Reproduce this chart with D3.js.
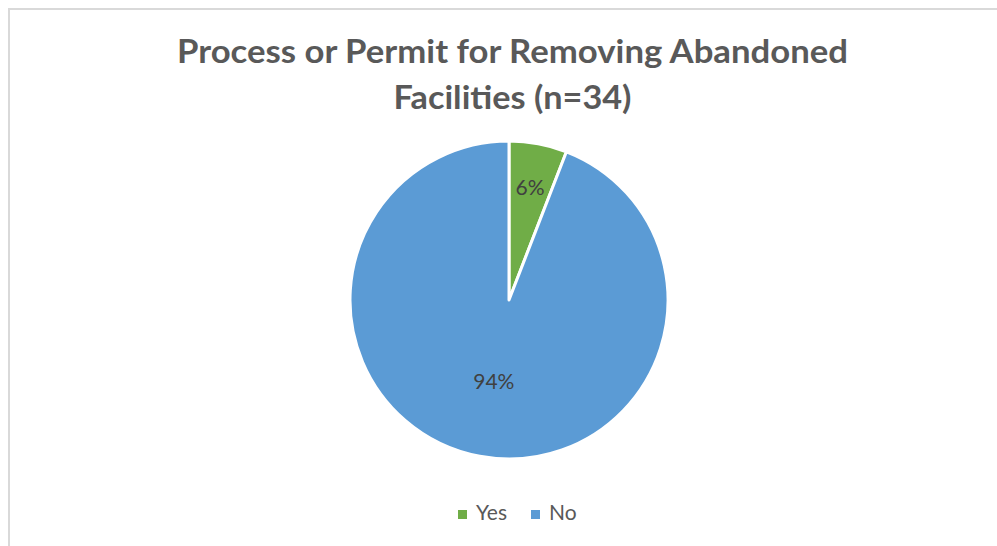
<!DOCTYPE html>
<html>
<head>
<meta charset="utf-8">
<script src="https://cdn.jsdelivr.net/npm/d3@7"></script>
<style>
  html, body { margin: 0; padding: 0; background: #fff; }
  svg { display: block; }
</style>
</head>
<body>
<svg id="chart" width="997" height="546"></svg>
<script>
// Survey responses (n = 34)
const categories = ["Yes", "No"];
const counts = [2, 32];
const colors = ["#70AD47", "#5B9BD5"];
const titleLines = ["Process or Permit for Removing Abandoned", "Facilities (n=34)"];

const W = 997, H = 546;
const svg = d3.select("#chart");

// chart area frame (top and left edges visible)
svg.append("path")
  .attr("d", "M9,546 V9 H997")
  .attr("fill", "none")
  .attr("stroke", "#d9d9d9")
  .attr("stroke-width", 2);

const textColor = "#595959";
const font = "Lato, 'Open Sans', 'Liberation Sans', sans-serif";

// title, widened to the plot's title width
const title = svg.append("text")
  .attr("text-anchor", "middle")
  .attr("font-family", font)
  .attr("font-weight", "bold")
  .attr("font-size", 33)
  .attr("fill", textColor);
const titleWidths = [671, 238];
titleLines.forEach((t, i) => {
  title.append("tspan")
    .attr("x", 512.5)
    .attr("y", 63 + i * 46)
    .attr("textLength", titleWidths[i])
    .attr("lengthAdjust", "spacingAndGlyphs")
    .text(t);
});

// pie
const cx = 509, cy = 300, R = 159;
const total = d3.sum(counts);
const data = categories.map((c, i) => ({ cat: c, value: counts[i], color: colors[i] }));
const pie = d3.pie().value(d => d.value).sort(null);
const arcs = pie(data);
const arc = d3.arc().innerRadius(0).outerRadius(R);

const g = svg.append("g").attr("transform", `translate(${cx},${cy})`);
g.selectAll("path.slice")
  .data(arcs)
  .join("path")
  .attr("class", "slice")
  .attr("d", arc)
  .attr("fill", d => d.data.color)
  .attr("stroke", "#fff")
  .attr("stroke-width", 3)
  .attr("stroke-linejoin", "round");

// data labels (best-fit radius per slice)
const labelRadius = [0.72, 0.52];
g.selectAll("text.lbl")
  .data(arcs)
  .join("text")
  .attr("class", "lbl")
  .attr("transform", (d, i) => {
    const r = R * labelRadius[i];
    const a = (d.startAngle + d.endAngle) / 2;
    return `translate(${r * Math.sin(a)},${-r * Math.cos(a)})`;
  })
  .attr("text-anchor", "middle")
  .attr("dy", "0.35em")
  .attr("font-family", font)
  .attr("font-size", 21)
  .attr("fill", "#404040")
  .text(d => Math.round(d.value / total * 100) + "%");

// legend
const legend = svg.append("g").attr("transform", "translate(0,514.5)");
const itemX = [458, 531];
data.forEach((d, i) => {
  const it = legend.append("g").attr("transform", `translate(${itemX[i]},0)`);
  it.append("rect").attr("x", 0).attr("y", -4.5).attr("width", 9).attr("height", 9).attr("fill", d.color);
  it.append("text").attr("x", 18).attr("y", -2).attr("dy", "0.35em")
    .attr("font-family", font).attr("font-size", 21).attr("fill", textColor)
    .text(d.cat);
});
</script>
</body>
</html>
